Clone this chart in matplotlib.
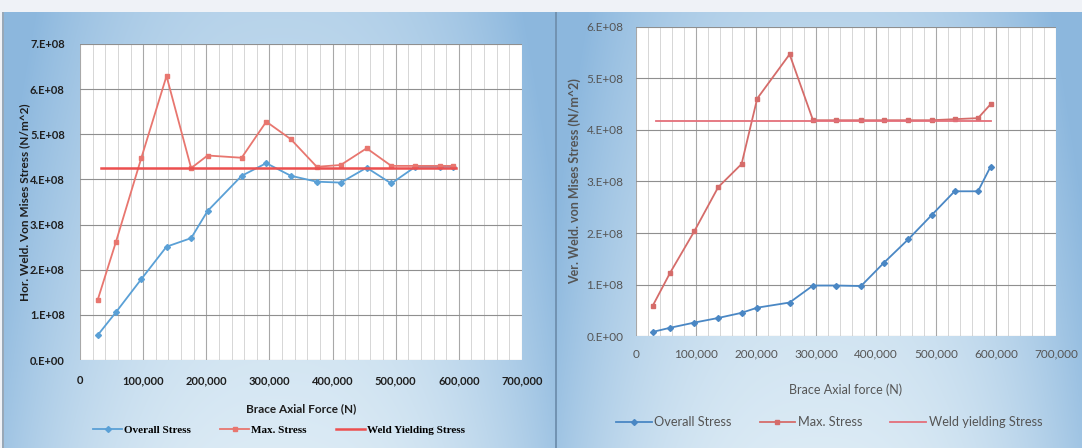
import numpy as np
import matplotlib.pyplot as plt
from matplotlib.ticker import MultipleLocator, FuncFormatter

# dados (força em N, tensão em N/m^2)
force = [28000, 57000, 97000, 137000, 176000, 202000, 256000, 295000,
         334000, 375000, 413000, 454000, 493000, 531000, 570000, 591000]

hor_overall = [0.55e8, 1.06e8, 1.79e8, 2.51e8, 2.70e8, 3.30e8, 4.08e8, 4.36e8,
               4.08e8, 3.95e8, 3.93e8, 4.26e8, 3.91e8, 4.28e8, 4.28e8, 4.28e8]
hor_max = [1.33e8, 2.62e8, 4.47e8, 6.29e8, 4.25e8, 4.53e8, 4.48e8, 5.28e8,
           4.89e8, 4.28e8, 4.32e8, 4.69e8, 4.30e8, 4.30e8, 4.30e8, 4.30e8]
hor_yield_x = [33000, 595000]
hor_yield = [4.25e8, 4.25e8]

ver_overall = [0.08e8, 0.16e8, 0.26e8, 0.35e8, 0.45e8, 0.55e8, 0.65e8, 0.98e8,
               0.98e8, 0.97e8, 1.42e8, 1.88e8, 2.35e8, 2.81e8, 2.81e8, 3.29e8]
ver_max = [0.59e8, 1.23e8, 2.03e8, 2.89e8, 3.34e8, 4.61e8, 5.47e8, 4.19e8,
           4.19e8, 4.19e8, 4.19e8, 4.19e8, 4.19e8, 4.21e8, 4.23e8, 4.50e8]
ver_yield_x = [33000, 592000]
ver_yield = [4.17e8, 4.17e8]

W, H = 1082, 448
fig = plt.figure(figsize=(W / 100, H / 100), dpi=100)

# fundo azul em degradê (área do gráfico do Excel)
bg = np.ones((H, W, 3)) * np.array([0.94, 0.95, 0.97])
dark = np.array([0.55, 0.72, 0.87])
light = np.array([0.86, 0.92, 0.96])
yy, xx = np.mgrid[0:H, 0:W]
for x0, x1 in [(3, 555), (557, W)]:
    m = (xx >= x0) & (xx < x1) & (yy >= 13)
    u = (xx - x0) / (x1 - x0)
    v = (yy - 13) / (H - 13)
    t = np.clip(0.45 * (1 - v) + 0.75 * np.abs(2 * u - 1) ** 2.5, 0, 1)
    col = light + (dark - light) * t[..., None]
    bg[m] = col[m]
bg[13:, 555:557] = [0.45, 0.58, 0.70]
bg[13:, 2:4] = [0.60, 0.66, 0.72]
ax_bg = fig.add_axes([0, 0, 1, 1], zorder=-5)
ax_bg.imshow(bg, aspect='auto', extent=[0, 1, 0, 1])
ax_bg.axis('off')


def fmt_y(v, pos):
    if v == 0:
        return '0.E+00'
    return '%d.E+08' % round(v / 1e8)


def fmt_x(v, pos):
    return '{:,}'.format(int(v))


def style_axes(ax, ymax, color, bold, pad_y, pad_x, fsize):
    ax.set_facecolor('white')
    ax.set_xlim(0, 700000)
    ax.set_ylim(0, ymax)
    ax.xaxis.set_major_locator(MultipleLocator(100000))
    ax.xaxis.set_minor_locator(MultipleLocator(20000))
    ax.yaxis.set_major_locator(MultipleLocator(1e8))
    ax.yaxis.set_major_formatter(FuncFormatter(fmt_y))
    ax.xaxis.set_major_formatter(FuncFormatter(fmt_x))
    ax.grid(True, which='major', axis='y', color='#8f8f8f', lw=0.8)
    ax.grid(True, which='major', axis='x', color='#a8a8a8', lw=0.8)
    ax.grid(True, which='minor', axis='x', color='#d6d6d6', lw=0.7)
    ax.set_axisbelow(True)
    for s in ax.spines.values():
        s.set_visible(False)
    ax.tick_params(which='both', length=0)
    ax.tick_params(axis='y', pad=pad_y)
    ax.tick_params(axis='x', pad=pad_x)
    for lab in ax.get_xticklabels() + ax.get_yticklabels():
        lab.set_fontsize(fsize)
        lab.set_color(color)
        lab.set_fontfamily('Lato')
        lab.set_fontweight('bold' if bold else 'normal')


# ---- gráfico da esquerda (solda horizontal)
ax1 = fig.add_axes([80 / W, 1 - 360 / H, 442 / W, 316 / H])
ax1.plot(force, hor_overall, color='#5aa0d6', lw=1.3, marker='D', ms=3, label='Overall Stress')
ax1.plot(force, hor_max, color='#e8766f', lw=1.3, marker='s', ms=2.5, label='Max. Stress')
ax1.plot(hor_yield_x, hor_yield, color='#ec4f4f', lw=1.8, label='Weld Yielding Stress')
style_axes(ax1, 7e8, '#1e1e1e', True, 11, 11, 8)
ax1.set_xlabel('Brace Axial Force (N)', fontsize=8.5, fontweight='bold',
               family='Lato', color='#1e1e1e', va='center')
ax1.xaxis.set_label_coords(0.5, -0.155)
ax1.set_ylabel('Hor. Weld. Von Mises Stress (N/m^2)', fontsize=8.5, fontweight='bold',
               family='Lato', color='#1e1e1e', va='center')
ax1.yaxis.set_label_coords(-0.125, 0.5)
ax1.legend(loc='center', bbox_to_anchor=(279 / W, 1 - 430 / H), bbox_transform=fig.transFigure,
           ncol=3, frameon=False, handlelength=2.6, columnspacing=2.6, handletextpad=0.2,
           prop={'family': 'Liberation Serif', 'weight': 'bold', 'size': 8})

# ---- gráfico da direita (solda vertical)
ax2 = fig.add_axes([636 / W, 1 - 336 / H, 420 / W, 309 / H])
ax2.plot(force, ver_overall, color='#4a87c4', lw=1.3, marker='D', ms=3, label='Overall Stress')
ax2.plot(force, ver_max, color='#d56c6a', lw=1.3, marker='s', ms=2.5, label='Max. Stress')
ax2.plot(ver_yield_x, ver_yield, color='#e46f7a', lw=1.3, label='Weld yielding Stress')
style_axes(ax2, 6e8, '#555555', False, 9, 9, 8.5)
ax2.set_xlabel('Brace Axial force (N)', fontsize=9, family='Lato', color='#555555', va='center')
ax2.xaxis.set_label_coords(0.5, -0.175)
ax2.set_ylabel('Ver. Weld. von Mises Stress (N/m^2)', fontsize=9, fontweight='bold',
               family='Lato', color='#555555', va='center')
ax2.yaxis.set_label_coords(-0.145, 0.5)
leg = ax2.legend(loc='center', bbox_to_anchor=(829 / W, 1 - 422 / H), bbox_transform=fig.transFigure,
                 ncol=3, frameon=False, handlelength=2.8, columnspacing=2.2, handletextpad=0.2,
                 prop={'family': 'Lato', 'size': 9.2})
for t in leg.get_texts():
    t.set_color('#555555')

fig.savefig('out.png', dpi=100)
